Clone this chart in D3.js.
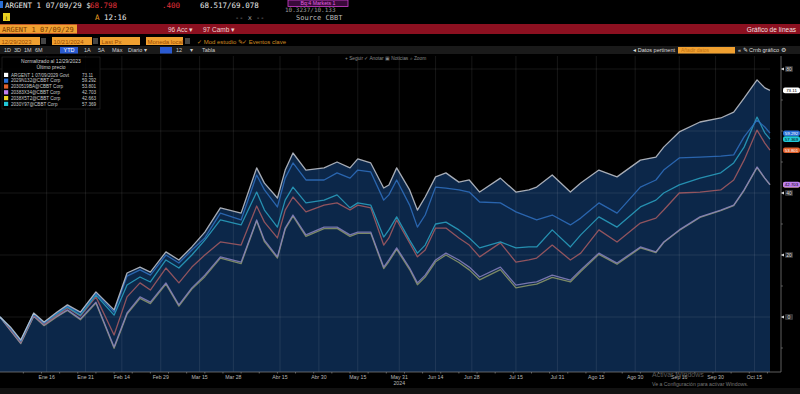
<!DOCTYPE html>
<html lang="es">
<head>
<meta charset="UTF-8">
<title>ARGENT 1 07/09/29 - Gráfico de líneas</title>
<script src="https://d3js.org/d3.v7.min.js"></script>
<style>
    body { margin: 0; background: #000; }
    svg { display: block; font-family: "Liberation Sans", Arial, sans-serif; }
    .mono { font-family: "DejaVu Sans Mono", monospace; }
</style>
</head>
<body>
<svg id="chart" width="800" height="394"></svg>
<script>
// ---- data (normalized % change since 12/29/2023) ----
const dates = ["2023-12-29","2024-01-02","2024-01-06","2024-01-11","2024-01-15","2024-01-20","2024-01-24","2024-01-29","2024-02-04",
    "2024-02-11","2024-02-16","2024-02-21","2024-02-25","2024-03-02","2024-03-07","2024-03-12","2024-03-17","2024-03-23","2024-03-31",
    "2024-04-06","2024-04-09","2024-04-14","2024-04-17","2024-04-20","2024-04-25","2024-05-02","2024-05-07","2024-05-12","2024-05-15",
    "2024-05-20","2024-05-25","2024-05-27","2024-05-30","2024-06-04","2024-06-07","2024-06-10","2024-06-14","2024-06-18","2024-06-23",
    "2024-06-27","2024-07-01","2024-07-09","2024-07-15","2024-07-20","2024-07-23","2024-07-29","2024-08-05","2024-08-09","2024-08-16",
    "2024-08-23","2024-09-01","2024-09-07","2024-09-10","2024-09-16","2024-09-24","2024-10-02","2024-10-07","2024-10-11","2024-10-16",
    "2024-10-19","2024-10-21"];

const argent = [0,-3.2,-7.4,1.3,-1.6,1.6,3.9,1.6,8.1,
    2.3,14.2,16.1,14.5,21.0,18.4,22.6,27.4,35.2,33.5,
    48.1,43.2,38.4,47.4,52.9,47.4,48.1,50.0,48.1,51.0,
    49.7,41.6,42.6,48.1,41.0,34.5,38.7,45.2,46.5,43.5,
    44.2,40.3,44.8,40.3,41.0,41.9,45.8,40.3,43.2,47.4,
    45.2,50.6,51.6,54.8,59.7,62.9,64.2,66.1,70.6,76.5,
    73.9,73.11];
const bondBlue = [0,-3.5,-7.7,1.0,-1.9,1.3,3.5,1.3,7.7,
    1.6,13.2,15.2,13.5,20.0,17.4,21.6,25.5,33.5,31.3,
    45.8,41.0,35.5,44.8,49.7,44.2,44.2,46.5,44.8,47.4,
    46.8,37.7,39.4,44.2,36.1,29.0,32.9,41.9,41.6,41.0,
    40.3,37.1,36.8,33.9,32.3,31.3,32.9,29.7,31.9,36.8,
    33.5,41.9,44.2,47.4,51.3,51.6,51.9,52.3,58.1,63.5,
    61.3,59.292];
const bondOrange = [0,-3.9,-8.1,0.6,-2.3,0.6,2.9,0.3,6.5,
    -5.8,6.5,11.0,8.7,15.8,11.0,16.1,20.0,24.2,23.2,
    35.8,30.6,25.5,34.5,38.7,33.9,36.1,36.8,34.5,36.1,
    35.2,23.2,25.5,31.3,23.9,19.4,21.6,28.7,28.7,25.5,
    23.2,19.4,23.9,17.7,18.4,19.0,23.2,18.4,20.6,28.1,
    24.2,30.3,31.9,34.5,40.0,40.3,41.0,44.2,50.6,60.3,
    56.1,53.801];
const bondPurple = [0,-4.2,-8.4,0.3,-2.6,0.3,2.3,-0.6,4.8,
    -9.7,1.3,6.5,4.8,11.0,3.9,9.4,13.5,19.4,17.7,
    31.3,24.8,19.4,28.7,32.9,26.5,29.0,29.0,26.5,27.4,
    27.4,16.1,18.4,22.3,15.8,11.0,13.5,18.4,20.6,18.4,
    16.1,12.9,16.1,10.3,11.0,11.3,13.5,11.9,15.2,20.6,
    17.4,22.6,21.0,24.2,28.1,32.3,34.5,36.1,41.0,48.4,
    44.8,42.703];
const bondYellow = [0,-4.3,-8.6,0.2,-2.8,0.1,2.1,-0.9,4.5,
    -10.1,0.9,6.0,4.3,10.6,3.5,9.0,13.0,19.0,17.2,
    31.0,24.3,19.0,28.3,32.5,26.0,28.5,28.6,26.0,27.0,
    27.0,15.6,17.9,21.8,15.3,10.4,12.9,17.8,20.0,17.6,
    15.2,12.0,15.3,9.4,10.2,10.6,12.8,11.3,14.7,20.2,
    17.0,22.3,20.8,24.0,27.9,32.1,34.3,35.9,40.8,48.2,
    44.7,42.663];
const bondCyan = [0,-3.5,-7.7,1.0,-1.9,1.0,3.2,0.6,7.1,
    0.6,10.3,12.9,11.3,18.4,15.8,20.0,24.8,31.3,29.7,
    40.3,34.5,29.0,37.7,41.9,36.8,37.7,39.4,35.2,36.8,
    36.1,25.8,28.1,32.3,24.8,20.6,23.2,30.0,30.6,28.1,
    25.5,22.3,24.2,22.3,22.6,22.6,28.1,22.6,26.5,32.3,
    29.0,35.5,37.7,40.0,42.6,44.8,46.5,49.7,54.8,64.5,
    59.4,57.369];

const seriesNames = ["ARGENT 1 07/09/2029 Govt", "2029N132@CBBT Corp", "2030519BA@CBBT Corp",
    "20383X34@CBBT Corp", "2038X5T2@CBBT Corp", "2030Y97@CBBT Corp"];
const lastPrices = ["73.11", "59.292", "53.801", "42.703", "42.663", "57.369"];
const legendColors = ["#ffffff", "#2a6fd6", "#e0602a", "#c080f0", "#e8d020", "#20c8d8"];
const lineColors = ["#c4c8d0", "#2f70c0", "#a85c62", "#8a82c0", "#8e9a6a", "#2aa2c2"];

const tickDates = ["2024-01-16","2024-01-31","2024-02-14","2024-02-29","2024-03-15","2024-03-28","2024-04-15",
    "2024-04-30","2024-05-15","2024-05-31","2024-06-14","2024-06-28","2024-07-15","2024-07-31","2024-08-15",
    "2024-08-30","2024-09-16","2024-09-30","2024-10-15"];
const tickLabels = ["Ene 16","Ene 31","Feb 14","Feb 29","Mar 15","Mar 28","Abr 15","Abr 30","May 15","May 31",
    "Jun 14","Jun 28","Jul 15","Jul 31","Ago 15","Ago 30","Sep 16","Sep 30","Oct 15"];
const yTicks = [0, 20, 40, 60, 80];
const yLabels = [0, 20, 40, 80];   // 60 sits behind the last-value tags

// ---- setup ----
const svg = d3.select("#chart");
const parse = d3.timeParse("%Y-%m-%d");
const dts = dates.map(parse);

const x = d3.scaleTime().domain([parse("2023-12-29"), parse("2024-10-21")]).range([0, 770]);
const y = d3.scaleLinear().domain([0, 80]).range([317, 69]);

function txt(g, px, py, s, size, fill, anchor, cls) {
    return g.append("text").attr("x", px).attr("y", py).text(s)
        .attr("font-size", size).attr("fill", fill)
        .attr("text-anchor", anchor || "start")
        .attr("class", cls || null);
}

svg.append("rect").attr("width", 800).attr("height", 394).attr("fill", "#000");

// ---- header ----
let hd = svg.append("g");
hd.append("rect").attr("x", 0).attr("y", 1).attr("width", 3).attr("height", 7).attr("fill", "#2a6fd6");
txt(hd, 5, 8, "ARGENT 1 07/09/29 $", 7.5, "#e8e8e8", "start", "mono");
txt(hd, 90, 8, "68.798", 7.5, "#e0303a", "start", "mono");
txt(hd, 162, 8, ".400", 7.5, "#e0303a", "start", "mono");
txt(hd, 200, 8, "68.517/69.078", 7.5, "#e8e8e8", "start", "mono");
txt(hd, 285, 11.5, "10.3237/10.133", 6, "#999", "start", "mono");
hd.append("rect").attr("x", 288).attr("y", 0).attr("width", 60).attr("height", 6.5)
    .attr("fill", "#3a0a3a").attr("stroke", "#d040d0").attr("stroke-width", 0.8);
txt(hd, 318, 5.3, "Bq:4 Markets 1", 5.2, "#e060e0", "middle");
hd.append("rect").attr("x", 3).attr("y", 13).attr("width", 7).attr("height", 8).attr("fill", "#e8d020");
txt(hd, 6.5, 19.5, "i", 6, "#000", "middle");
txt(hd, 95, 20, "A", 7.5, "#f0a020", "start", "mono");
txt(hd, 104, 20, "12:16", 7.5, "#e8e8e8", "start", "mono");
txt(hd, 235, 20, "-- x --", 7, "#999", "start", "mono");
txt(hd, 296, 20, "Source CBBT", 7, "#bbb", "start", "mono");

// red band
hd.append("rect").attr("x", 0).attr("y", 24).attr("width", 800).attr("height", 10).attr("fill", "#8c1020");
hd.append("rect").attr("x", 0).attr("y", 24.5).attr("width", 77).attr("height", 9).attr("fill", "#f0a030");
txt(hd, 2, 31.8, "ARGENT 1 07/09/29", 7, "#7a3a00", "start", "mono");
txt(hd, 168, 31.8, "96 Acc ▾", 6.5, "#f0d0d0");
txt(hd, 203, 31.8, "97 Camb ▾", 6.5, "#f0d0d0");
txt(hd, 796, 31.8, "Gráfico de líneas", 6.5, "#f4e0e0", "end");

// date row
const boxes = [[0, 40, "12/29/2023"], [52, 40, "10/21/2024"], [100, 40, "Last Px"], [146, 37, "Moneda local"]];
boxes.forEach(function (b) {
    hd.append("rect").attr("x", b[0]).attr("y", 37).attr("width", b[1]).attr("height", 8).attr("fill", "#f0a030");
    txt(hd, b[0] + 1.5, 43.5, b[2], 6, "#9a4a00");
});
hd.append("rect").attr("x", 41).attr("y", 38).attr("width", 5).attr("height", 6).attr("fill", "#444");
hd.append("rect").attr("x", 93).attr("y", 38).attr("width", 5).attr("height", 6).attr("fill", "#444");
hd.append("rect").attr("x", 185).attr("y", 38).attr("width", 5).attr("height", 6).attr("fill", "#444");
txt(hd, 197, 43.5, "✓ Mod estudio ✎", 6, "#d08a20");
txt(hd, 242, 43.5, "✓ Eventos clave", 6, "#d08a20");

// period row
hd.append("rect").attr("x", 0).attr("y", 46).attr("width", 800).attr("height", 8).attr("fill", "#1a1a1a");
const periods = [[4, "1D"], [14, "3D"], [24, "1M"], [35, "6M"], [84, "1A"], [98, "5A"], [112, "Máx"], [128, "Diario ▾"], [176, "12"], [190, "▾"], [202, "Tabla"]];
hd.append("rect").attr("x", 60).attr("y", 47).attr("width", 18).attr("height", 6.5).attr("fill", "#2a5ad0");
txt(hd, 69, 52, "YTD", 5.5, "#fff", "middle");
hd.append("rect").attr("x", 160).attr("y", 47).attr("width", 12).attr("height", 6.5).attr("fill", "#2a5ad0");
periods.forEach(function (p) { txt(hd, p[0], 52, p[1], 5.5, "#cfcfcf"); });
txt(hd, 675, 52, "◂ Datos pertinent", 5.5, "#ddd", "end");
hd.append("rect").attr("x", 678).attr("y", 47).attr("width", 57).attr("height", 6.5).attr("fill", "#f0a030");
txt(hd, 681, 52, "Añadir datos", 5, "#c07010");
txt(hd, 738, 52, "« ✎ Crnb gráfico ⚙", 5.5, "#ddd");

// ---- plot area ----
const plot = svg.append("g");

// filled area under top series
plot.append("path")
    .datum(argent)
    .attr("fill", "#0c2749")
    .attr("d", d3.area().x(function (d, i) { return x(dts[i]); }).y0(372).y1(function (d) { return y(d); }));

// gridlines
plot.selectAll(".vg").data(tickDates).enter().append("line")
    .attr("x1", function (d) { return x(parse(d)); }).attr("x2", function (d) { return x(parse(d)); })
    .attr("y1", 56).attr("y2", 372)
    .attr("stroke", "#ffffff").attr("stroke-opacity", 0.11).attr("stroke-width", 0.8);
plot.selectAll(".hg").data(yTicks).enter().append("line")
    .attr("x1", 0).attr("x2", 770)
    .attr("y1", function (d) { return y(d); }).attr("y2", function (d) { return y(d); })
    .attr("stroke", "#ffffff").attr("stroke-opacity", 0.11).attr("stroke-width", 0.8);

// lines
const allSeries = [argent, bondBlue, bondOrange, bondPurple, bondYellow, bondCyan];
const drawOrder = [4, 3, 2, 5, 1, 0];
const line = d3.line().x(function (d, i) { return x(dts[i]); }).y(function (d) { return y(d); }).curve(d3.curveLinear);
drawOrder.forEach(function (k) {
    plot.append("path").datum(allSeries[k])
        .attr("fill", "none").attr("stroke", lineColors[k]).attr("stroke-width", 1.3)
        .attr("stroke-opacity", 0.85).attr("stroke-linejoin", "round")
        .attr("d", line);
});

// chart toolbar
txt(svg, 345, 60, "+ Seguir   ✓ Anotar   ▣ Noticias   ⌕ Zoom", 4.8, "#888");

// ---- x axis ----
const xg = svg.append("g").attr("transform", "translate(0,372)");
xg.append("line").attr("x1", 0).attr("x2", 781).attr("stroke", "#777").attr("stroke-width", 0.8);
const weekly = d3.timeWeek.range(parse("2024-01-01"), parse("2024-10-21"));
xg.selectAll(".mt").data(weekly).enter().append("line")
    .attr("x1", function (d) { return x(d); }).attr("x2", function (d) { return x(d); })
    .attr("y1", 0).attr("y2", 1.5).attr("stroke", "#999").attr("stroke-width", 0.6);
xg.selectAll(".xl").data(tickDates).enter().append("text")
    .attr("x", function (d) { return x(parse(d)); }).attr("y", 7)
    .attr("text-anchor", "middle").attr("font-size", 5.2).attr("fill", "#b8b8b8")
    .text(function (d, i) { return tickLabels[i]; });
txt(svg, x(parse("2024-05-31")), 385, "2024", 5.2, "#b8b8b8", "middle");
svg.append("rect").attr("x", 0).attr("y", 388).attr("width", 800).attr("height", 6).attr("fill", "#121212");

// watermark
txt(svg, 652, 377, "Activar Windows", 7, "#5a5a5a");
txt(svg, 652, 385.5, "Ve a Configuración para activar Windows.", 5.2, "#777");

// ---- y axis (right) ----
const yg = svg.append("g");
yg.append("line").attr("x1", 781).attr("x2", 781).attr("y1", 56).attr("y2", 372).attr("stroke", "#777").attr("stroke-width", 0.8);
yg.selectAll(".ymt").data(d3.range(-10, 85, 10)).enter().append("line")
    .attr("x1", 781).attr("x2", 783)
    .attr("y1", function (d) { return y(d); }).attr("y2", function (d) { return y(d); })
    .attr("stroke", "#888").attr("stroke-width", 0.6);
yLabels.forEach(function (t) {
    yg.append("path").attr("d", "M781," + y(t) + "l3,-1.5v3z").attr("fill", "#ddd");
    yg.append("rect").attr("x", 785).attr("y", y(t) - 3).attr("width", 8).attr("height", 6).attr("rx", 1).attr("fill", "#333");
    txt(yg, 789, y(t) + 1.8, String(t), 5, "#ddd", "middle");
});

// last-value tags
const tagOrder = [0, 1, 5, 2, 4, 3];
tagOrder.forEach(function (k) {
    const v = allSeries[k][allSeries[k].length - 1];
    yg.append("rect").attr("x", 783).attr("y", y(v) - 2.8).attr("width", 17).attr("height", 5.6).attr("rx", 2)
        .attr("fill", legendColors[k]);
    txt(yg, 791.5, y(v) + 1.6, lastPrices[k], 4.4, (k === 1 || k === 2) ? "#fff" : "#000", "middle");
});

// ---- legend ----
const lg = svg.append("g");
lg.append("rect").attr("x", 2).attr("y", 57).attr("width", 98).attr("height", 52)
    .attr("fill", "#000").attr("fill-opacity", 0.9).attr("stroke", "#2a2a2a").attr("stroke-width", 0.6);
txt(lg, 51, 63, "Normalizado al 12/29/2023", 5, "#cfcfcf", "middle");
txt(lg, 51, 69, "Último precio", 5, "#cfcfcf", "middle");
seriesNames.forEach(function (n, i) {
    const ry = 75 + i * 5.8;
    lg.append("rect").attr("x", 4).attr("y", ry - 2.2).attr("width", 4.2).attr("height", 4.2).attr("fill", legendColors[i]);
    txt(lg, 11, ry + 1.6, n, 4.6, "#c8c8c8");
    txt(lg, 82, ry + 1.6, lastPrices[i], 4.6, "#c8c8c8");
});
</script>
</body>
</html>
